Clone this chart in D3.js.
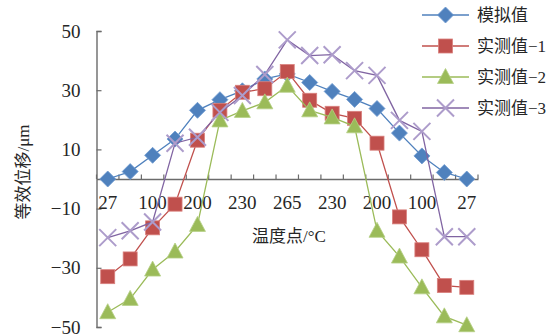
<!DOCTYPE html>
<html>
<head>
<meta charset="utf-8">
<script src="https://cdn.jsdelivr.net/npm/d3@7/dist/d3.min.js"></script>
<style>
  body { margin: 0; background: #fff; }
  text { font-family: "Liberation Serif", "Noto Sans CJK SC", serif; fill: #262626; }
</style>
</head>
<body>
<div id="chart"></div>
<script>

// tick labels along the temperature axis (every other category is unlabeled)
var tickLabels = ["27", "", "100", "", "200", "", "230", "", "265", "", "230", "", "200", "", "100", "", "27"];

var simulated = [0, 2.5, 8, 13.5, 23.2, 26.8, 29.8, 33.8, 35.5, 32.6, 29.6, 26.9, 23.8, 15.5, 7.8, 2.2, 0];
var measured1 = [-33, -27, -16.5, -8.5, 13.1, 23.2, 29.3, 30.5, 36.3, 26.6, 22.2, 20.5, 12.1, -12.8, -23.9, -36, -36.6];
var measured2 = [-45, -40.5, -30.6, -24.5, -15.5, 19.8, 23, 25.9, 31.5, 23.2, 20.8, 17.8, -17.5, -26.2, -36.6, -46.4, -49.4];
var measured3 = [-19.8, -17.5, -14.5, 12.1, 14.1, 22.5, 28.2, 35.3, 47, 41.7, 42, 36.6, 35, 19.8, 16.1, -19.5, -19.5];

var seriesNames = ["模拟值", "实测值−1", "实测值−2", "实测值−3"];
var seriesColors = ["#4F81BD", "#C0504D", "#9BBB59", "#8064A2"];
var seriesShapes = ["diamond", "square", "triangle", "cross"];
var yTicks = [50, 30, 10, -10, -30, -50];

var width = 558, height = 336;
var plotLeft = 96.5, plotRight = 478, plotTop = 31, plotBottom = 327;

var svg = d3.select("#chart").append("svg")
    .attr("width", width)
    .attr("height", height);

var idx = d3.range(tickLabels.length);

var x = d3.scaleBand()
    .domain(idx)
    .range([plotLeft, plotRight]);

var y = d3.scaleLinear()
    .domain([-50, 50])
    .range([plotBottom, plotTop]);

function cx(i) { return x(i) + x.bandwidth() / 2; }

// y axis: ticks point inward
var yAxis = d3.axisLeft(y)
    .tickValues(yTicks)
    .tickSize(-5)
    .tickPadding(16)
    .tickFormat(d3.format("d"));

var gy = svg.append("g")
    .attr("transform", "translate(" + plotLeft + ",0)")
    .call(yAxis);
gy.select(".domain").attr("stroke", "#6b6b6b").attr("stroke-width", 1.4);
gy.selectAll(".tick line").attr("stroke", "#6b6b6b").attr("stroke-width", 1.2);
gy.selectAll(".tick text").style("font-size", "19px").attr("fill", "#262626");

// x axis at zero: labels centered on categories, ticks on category boundaries
var xAxis = d3.axisBottom(x)
    .tickSize(0)
    .tickPadding(17)
    .tickFormat(function(d) { return tickLabels[d]; });

var gx = svg.append("g")
    .attr("transform", "translate(0," + y(0) + ")")
    .call(xAxis);
gx.select(".domain").attr("stroke", "#6b6b6b").attr("stroke-width", 1.4);
gx.selectAll(".tick text").style("font-size", "19px").attr("fill", "#262626");

gx.selectAll(".bound")
    .data(d3.range(tickLabels.length + 1))
    .enter().append("line")
    .attr("class", "bound")
    .attr("x1", function(d) { return plotLeft + d * x.step(); })
    .attr("x2", function(d) { return plotLeft + d * x.step(); })
    .attr("y1", 0)
    .attr("y2", -4.5)
    .attr("stroke", "#6b6b6b")
    .attr("stroke-width", 1.2);

// axis titles
svg.append("text")
    .attr("x", 289)
    .attr("y", 242)
    .attr("text-anchor", "middle")
    .style("font-size", "17px")
    .text("温度点/°C");

svg.append("text")
    .attr("transform", "translate(29,172) rotate(-90)")
    .attr("text-anchor", "middle")
    .style("font-size", "17px")
    .text("等效位移/μm");

// marker drawing
function marker(g, shape, color) {
    if (shape === "diamond") {
        g.append("path")
            .attr("d", "M0,-8L8,0L0,8L-8,0Z")
            .attr("fill", color)
            .attr("stroke", "#6f9bd1")
            .attr("stroke-width", 0.8);
    } else if (shape === "square") {
        g.append("rect")
            .attr("x", -7).attr("y", -7)
            .attr("width", 14).attr("height", 14)
            .attr("fill", color)
            .attr("stroke", "#d9817e")
            .attr("stroke-width", 0.8);
    } else if (shape === "triangle") {
        g.append("path")
            .attr("d", "M0,-8.5L8,6.5L-8,6.5Z")
            .attr("fill", color)
            .attr("stroke", "#b5cf85")
            .attr("stroke-width", 0.8);
    } else {
        g.append("path")
            .attr("d", "M-8.5,-8.5L8.5,8.5M-8.5,8.5L8.5,-8.5")
            .attr("fill", "none")
            .attr("stroke", "#ad9ccb")
            .attr("stroke-width", 2);
    }
}

var allSeries = [simulated, measured1, measured2, measured3];

var line = d3.line()
    .x(function(d, i) { return cx(i); })
    .y(function(d) { return y(d); });

allSeries.forEach(function(data, s) {
    var g = svg.append("g").attr("class", "series");
    g.append("path")
        .datum(data)
        .attr("d", line)
        .attr("fill", "none")
        .attr("stroke", seriesColors[s])
        .attr("stroke-width", 1.3);
    data.forEach(function(v, i) {
        var m = g.append("g").attr("transform", "translate(" + cx(i) + "," + y(v) + ")");
        marker(m, seriesShapes[s], seriesColors[s]);
    });
});

// legend
var legend = svg.append("g").attr("transform", "translate(422,15)");
seriesNames.forEach(function(name, s) {
    var row = legend.append("g").attr("transform", "translate(0," + (s * 31) + ")");
    row.append("line")
        .attr("x1", 0).attr("x2", 47)
        .attr("stroke", seriesColors[s])
        .attr("stroke-width", 1.3);
    var m = row.append("g").attr("transform", "translate(23.5,0)");
    marker(m, seriesShapes[s], seriesColors[s]);
    row.append("text")
        .attr("x", 55)
        .attr("y", 6)
        .style("font-size", "17px")
        .text(name);
});
</script>
</body>
</html>
